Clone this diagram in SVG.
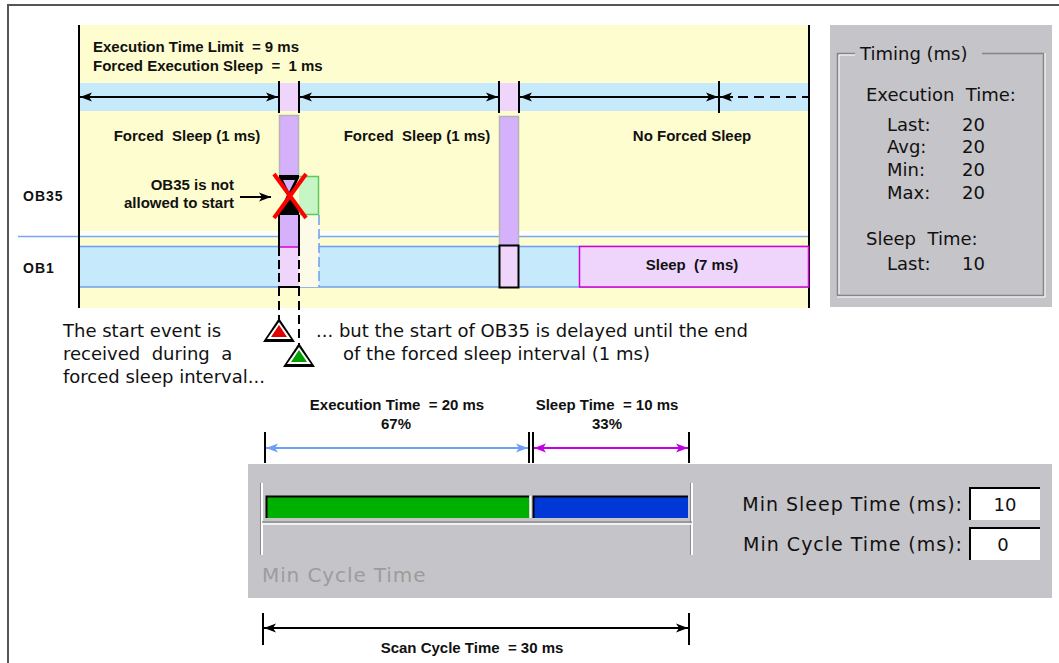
<svg xmlns="http://www.w3.org/2000/svg" width="1059" height="663" viewBox="0 0 1059 663">
<style>
.sb{font-family:"Liberation Sans",Arial,sans-serif;font-weight:bold;font-size:15px;fill:#111}
.rg{font-family:"DejaVu Sans",Verdana,sans-serif;font-size:18px;fill:#111}
.pn{font-family:"DejaVu Sans",Verdana,sans-serif;font-size:18px;fill:#111}
.fm{font-family:"DejaVu Sans",Verdana,sans-serif;font-size:19px;letter-spacing:1px;fill:#111}
.lb{font-family:"Liberation Sans",Arial,sans-serif;font-weight:bold;font-size:14px;letter-spacing:1px;fill:#111}
.ar{stroke:#000;stroke-width:2;fill:none}
.tick{stroke:#000;stroke-width:2}
.bar{fill:#d5b0fb;stroke:#b5b5b5;stroke-width:1.5}
</style>
<defs>
<marker id="ah" markerUnits="userSpaceOnUse" markerWidth="12" markerHeight="10" refX="12" refY="5" orient="auto-start-reverse"><path d="M0,0.5 L12,5 L0,9.5 L3,5 z" fill="#000"/></marker>
<marker id="ahb" markerUnits="userSpaceOnUse" markerWidth="12" markerHeight="10" refX="12" refY="5" orient="auto-start-reverse"><path d="M0,0.5 L12,5 L0,9.5 L3,5 z" fill="#6f9ff5"/></marker>
<marker id="ahm" markerUnits="userSpaceOnUse" markerWidth="12" markerHeight="10" refX="12" refY="5" orient="auto-start-reverse"><path d="M0,0.5 L12,5 L0,9.5 L3,5 z" fill="#c000e0"/></marker>
</defs>
<rect x="0" y="0" width="1059" height="663" fill="#fff"/>
<path d="M8,663 V5 H1059" fill="none" stroke="#555" stroke-width="2"/>

<!-- timeline background -->
<g id="timeline">
<rect x="79" y="25" width="730" height="283" fill="#fefdcf"/>
<rect x="79" y="83" width="730" height="28" fill="#c6e9fb"/>
<rect x="279" y="83" width="20" height="28" fill="#efd5fc"/>
<rect x="499" y="83" width="20" height="28" fill="#efd5fc"/>
<rect x="79" y="231" width="730" height="5" fill="#fff"/>
<line x1="18" y1="236.5" x2="809" y2="236.5" stroke="#7aa8f0" stroke-width="1.5"/>
<rect x="79" y="246" width="730" height="41" fill="#c6e9fb"/>
<line x1="79" y1="246.5" x2="809" y2="246.5" stroke="#6b9ff0" stroke-width="1.5"/>
<line x1="79" y1="287" x2="809" y2="287" stroke="#6b9ff0" stroke-width="1.5"/>
<line x1="79" y1="25" x2="79" y2="308" stroke="#000" stroke-width="2"/>
<line x1="809" y1="25" x2="809" y2="308" stroke="#000" stroke-width="2"/>
<text class="sb" x="93" y="52" xml:space="preserve">Execution Time Limit  = 9 ms</text>
<text class="sb" x="93" y="71" xml:space="preserve">Forced Execution Sleep  =  1 ms</text>
<text class="sb" x="187" y="141" text-anchor="middle" xml:space="preserve">Forced  Sleep (1 ms)</text>
<text class="sb" x="417" y="141" text-anchor="middle" xml:space="preserve">Forced  Sleep (1 ms)</text>
<text class="sb" x="692" y="141" text-anchor="middle">No Forced Sleep</text>
<text class="lb" x="23" y="201">OB35</text>
<text class="lb" x="23" y="273">OB1</text>
</g>

<!-- OB35 blocked column -->
<g id="ob35-blocked">
<rect class="bar" x="279.5" y="115.5" width="19" height="60"/>
<rect x="279" y="215" width="20" height="32" fill="#d5b0fb"/>
<rect x="279" y="247" width="20" height="40" fill="#efd5fc"/>
<line x1="279" y1="247" x2="299" y2="247" stroke="#d400d4" stroke-width="1.5"/>
<rect x="299" y="215" width="20" height="72" fill="#fbfbe8"/>
<line x1="319" y1="215" x2="319" y2="287" stroke="#6b9ff0" stroke-width="1.5" stroke-dasharray="10,4"/>
<path d="M299,176.5 H318.5 V214.5 H299" fill="#c6f6c6" stroke="#60c860" stroke-width="1.5"/>
<polygon points="279,175 299,175 299,178 291,195 299,212 299,215 279,215 279,212 287,195 279,178" fill="#000"/>
<polygon points="283,180 295,180 289,192" fill="#d5b0fb"/>
<line x1="279" y1="215" x2="279" y2="247" stroke="#000" stroke-width="2"/>
<line x1="299" y1="215" x2="299" y2="247" stroke="#000" stroke-width="2"/>
<line x1="279" y1="247" x2="279" y2="287" stroke="#000" stroke-width="2" stroke-dasharray="9,4"/>
<line x1="299" y1="247" x2="299" y2="287" stroke="#000" stroke-width="2" stroke-dasharray="9,4"/>
<line x1="278" y1="287" x2="300" y2="287" stroke="#000" stroke-width="2"/>
<line x1="274" y1="174" x2="306" y2="218" stroke="#f00" stroke-width="4"/>
<line x1="306" y1="174" x2="274" y2="218" stroke="#f00" stroke-width="4"/>
<text class="sb" x="234" y="190" text-anchor="end">OB35 is not</text>
<text class="sb" x="234" y="208" text-anchor="end">allowed to start</text>
</g>

<!-- OB35 second column -->
<g id="ob35-run">
<rect class="bar" x="499.5" y="116.5" width="19" height="129"/>
<rect x="499.5" y="245.5" width="19" height="42" fill="#efd5fc" stroke="#000" stroke-width="2"/>
</g>

<!-- sleep block -->
<g id="sleep-block">
<rect x="579.5" y="246.5" width="229" height="40.5" fill="#efd5fc" stroke="#d400d4" stroke-width="1.5"/>
<text class="sb" x="692" y="270" text-anchor="middle" font-size="14" xml:space="preserve">Sleep  (7 ms)</text>
</g>

<!-- event markers -->
<g id="event-markers">
<line x1="279" y1="287" x2="279" y2="320" stroke="#000" stroke-width="2" stroke-dasharray="9,5"/>
<line x1="299" y1="287" x2="299" y2="345" stroke="#000" stroke-width="2" stroke-dasharray="9,5"/>
<polygon points="279,318 263,342 295,342" fill="#000"/>
<polygon points="279,322 267,339 291,339" fill="#fff"/>
<polygon points="279,325 271,337 287,337" fill="#e00000"/>
<polygon points="299,343 283,367 315,367" fill="#000"/>
<polygon points="299,347 287,364 311,364" fill="#fff"/>
<polygon points="299,350 291,362 307,362" fill="#00a000"/>
<text class="rg" x="63" y="337">The start event is</text>
<text class="rg" x="63" y="360" xml:space="preserve">received  during  a</text>
<text class="rg" x="63" y="383">forced sleep interval...</text>
<text class="rg" x="316" y="337">... but the start of OB35 is delayed until the end</text>
<text class="rg" x="343" y="360">of the forced sleep interval (1 ms)</text>
</g>

<!-- timing panel -->
<g id="timing-panel">
<rect x="830" y="25" width="222" height="282" fill="#c5c4c8"/>
<path d="M855,53.5 H837.5 V295.5 H1043.5 V53.5 H982" fill="none" stroke="#858585" stroke-width="1.5"/>
<path d="M855,55 H839 V294 M1045,53 V297 H837" fill="none" stroke="#fff" stroke-width="1"/>
<text class="pn" x="860" y="60">Timing (ms)</text>
<text class="pn" x="866" y="101" xml:space="preserve">Execution  Time:</text>
<text class="pn" x="887" y="131">Last:</text><text class="pn" x="962" y="131">20</text>
<text class="pn" x="887" y="153">Avg:</text><text class="pn" x="962" y="153">20</text>
<text class="pn" x="887" y="176">Min:</text><text class="pn" x="962" y="176">20</text>
<text class="pn" x="887" y="199">Max:</text><text class="pn" x="962" y="199">20</text>
<text class="pn" x="866" y="245" xml:space="preserve">Sleep  Time:</text>
<text class="pn" x="887" y="270">Last:</text><text class="pn" x="962" y="270">10</text>
</g>

<!-- settings panel -->
<g id="settings-panel">
<rect x="248" y="464" width="804" height="134" fill="#c5c4c8"/>
<line x1="262" y1="483" x2="262" y2="555" stroke="#fff" stroke-width="2"/>
<line x1="260.5" y1="483" x2="260.5" y2="555" stroke="#8c8c8c" stroke-width="1"/>
<line x1="692" y1="483" x2="692" y2="555" stroke="#fff" stroke-width="2"/>
<line x1="690.5" y1="483" x2="690.5" y2="555" stroke="#8c8c8c" stroke-width="1"/>
<line x1="262" y1="522" x2="692" y2="522" stroke="#8c8c8c" stroke-width="1.5"/>
<line x1="262" y1="524" x2="692" y2="524" stroke="#fff" stroke-width="1.5"/>
<rect x="266" y="496" width="263" height="22" fill="#00b000"/>
<rect x="533" y="496" width="155" height="22" fill="#0038d8"/>
<path d="M266.5,518 V496.5 H529 M533.5,518 V496.5 H688" fill="none" stroke="#000" stroke-width="2"/>
<line x1="530.5" y1="496" x2="530.5" y2="518" stroke="#fff" stroke-width="1.5"/>
<text class="fm" x="262" y="582" style="fill:#9c9c9c;font-size:20px;letter-spacing:0.9px">Min Cycle Time</text>
<text class="fm" x="963" y="511" text-anchor="end">Min Sleep Time (ms):</text>
<text class="fm" x="963" y="551" text-anchor="end">Min Cycle Time (ms):</text>
<rect x="969" y="487" width="71" height="33" fill="#fff"/>
<path d="M970,520 V488 H1040" fill="none" stroke="#000" stroke-width="2"/>
<text class="pn" x="1005" y="511" text-anchor="middle">10</text>
<rect x="969" y="527" width="71" height="33" fill="#fff"/>
<path d="M970,560 V528 H1040" fill="none" stroke="#000" stroke-width="2"/>
<text class="pn" x="1003" y="551" text-anchor="middle">0</text>
</g>

<!-- connectors / dimension arrows -->
<g id="connectors">
<line class="tick" x1="279" y1="81" x2="279" y2="113"/>
<line class="tick" x1="299" y1="81" x2="299" y2="113"/>
<line class="tick" x1="499" y1="81" x2="499" y2="113"/>
<line class="tick" x1="519" y1="81" x2="519" y2="113"/>
<line class="tick" x1="719" y1="81" x2="719" y2="113"/>
<line class="ar" x1="80" y1="97" x2="278" y2="97" marker-start="url(#ah)" marker-end="url(#ah)"/>
<line class="ar" x1="300" y1="97" x2="498" y2="97" marker-start="url(#ah)" marker-end="url(#ah)"/>
<line class="ar" x1="520" y1="97" x2="718" y2="97" marker-start="url(#ah)" marker-end="url(#ah)"/>
<line class="ar" x1="720" y1="97" x2="733" y2="97" marker-start="url(#ah)"/>
<line class="ar" x1="738" y1="97" x2="809" y2="97" stroke-dasharray="10,6"/>
<line class="ar" x1="240" y1="197" x2="271" y2="197" marker-end="url(#ah)"/>

<line class="tick" x1="265" y1="432" x2="265" y2="463"/>
<line class="tick" x1="529" y1="432" x2="529" y2="463"/>
<line class="tick" x1="533" y1="432" x2="533" y2="463"/>
<line class="tick" x1="689" y1="432" x2="689" y2="463"/>
<line x1="266" y1="448" x2="528" y2="448" stroke="#6f9ff5" stroke-width="2" marker-start="url(#ahb)" marker-end="url(#ahb)"/>
<line x1="534" y1="448" x2="688" y2="448" stroke="#c000e0" stroke-width="2" marker-start="url(#ahm)" marker-end="url(#ahm)"/>
<text class="sb" x="397" y="410" text-anchor="middle" xml:space="preserve">Execution Time  = 20 ms</text>
<text class="sb" x="396" y="429" text-anchor="middle">67%</text>
<text class="sb" x="607" y="410" text-anchor="middle" xml:space="preserve">Sleep Time  = 10 ms</text>
<text class="sb" x="607" y="429" text-anchor="middle">33%</text>

<line class="tick" x1="263" y1="613" x2="263" y2="645"/>
<line class="tick" x1="689" y1="613" x2="689" y2="645"/>
<line class="ar" x1="264" y1="628" x2="688" y2="628" marker-start="url(#ah)" marker-end="url(#ah)"/>
<text class="sb" x="472" y="653" text-anchor="middle" xml:space="preserve">Scan Cycle Time  = 30 ms</text>
</g>
</svg>
